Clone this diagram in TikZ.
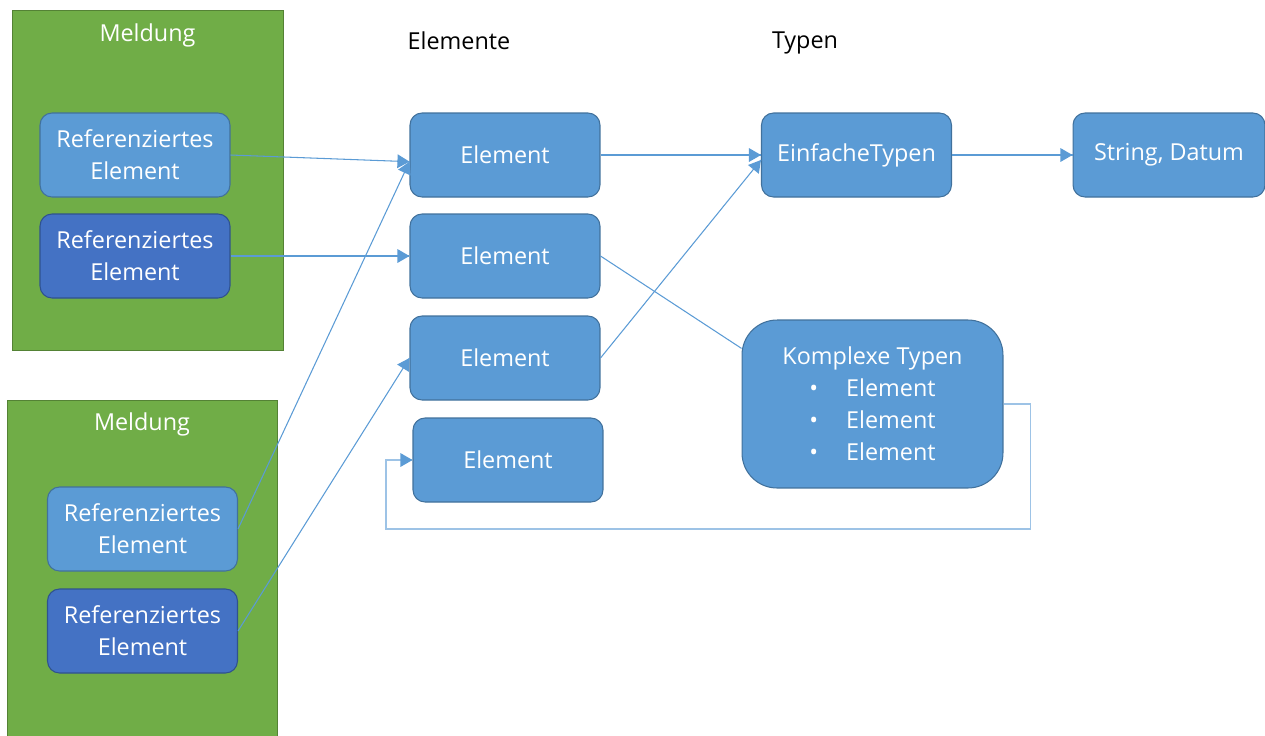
\documentclass[tikz,border=0pt]{standalone}
\usepackage{fontspec}
\setmainfont{Open Sans}
\usetikzlibrary{arrows}
\usetikzlibrary{decorations.markings}
\definecolor{msggreen}{HTML}{70AD47}
\definecolor{msgline}{HTML}{548235}
\definecolor{elblue}{HTML}{5B9BD5}
\definecolor{elline}{HTML}{41719C}
\definecolor{refdark}{HTML}{4472C4}
\definecolor{refline}{HTML}{2F528F}
\definecolor{connblue}{HTML}{5B9BD5}
\definecolor{looplight}{HTML}{9DC3E6}
\tikzset{tip/.style = {decoration={markings,
                                   mark=at position 1 with {\arrow[scale=1.15, connblue]{triangle 60}}},
                       postaction={decorate}}}
\tikzset{msgbox/.style = {draw = msgline, fill = msggreen, line width = 0.5pt,
                          minimum width = 5.42cm, minimum height = 6.8cm, inner sep = 0}}
\tikzset{elbox/.style = {draw = elline, fill = elblue, line width = 0.6pt,
                         rounded corners = 0.24cm, minimum width = 3.8cm, minimum height = 1.68cm,
                         inner sep = 0, text = white, align = center,
                         font = \fontsize{13.3}{18.2}\selectfont}}
\tikzset{refbox/.style = {elbox, draw = refline, fill = refdark}}
\tikzset{conn/.style = {draw = connblue, line width = 0.6pt}}
\tikzset{head/.style = {font = \fontsize{13.3}{18.2}\selectfont}}

\begin{document}
\begin{tikzpicture}[x = 0.02cm, y = -0.02cm]
        \useasboundingbox (0, 0) rectangle (1265, 735);
        % Meldungen
        \node at (147.5, 180) [msgbox] (m1) {};
        \node at (142, 570) [msgbox, minimum width = 5.4cm, minimum height = 6.8cm] (m2) {};
        \node at (147.5, 35) [head, text = white] (m1t) {Meldung};
        \node at (142, 424) [head, text = white] (m2t) {Meldung};
        \node at (135, 155) [elbox] (r1) {Referenziertes\\Element};
        \node at (135, 256) [refbox] (r2) {Referenziertes\\Element};
        \node at (142.5, 529) [elbox] (r3) {Referenziertes\\Element};
        \node at (142.5, 631) [refbox] (r4) {Referenziertes\\Element};
        % Elemente
        \node at (459, 41) [head] (elt) {Elemente};
        \node at (505, 155) [elbox] (e1) {Element};
        \node at (505, 256) [elbox] (e2) {Element};
        \node at (505, 358) [elbox] (e3) {Element};
        \node at (508, 460) [elbox] (e4) {Element};
        % Typen
        \node at (805, 43) [head] (tyt) {Typen};
        \node at (856.5, 155) [elbox] (et) {EinfacheTypen};
        \node at (1169, 155) [elbox, minimum width = 3.84cm] (sd) {String, Datum};
        \node at (872.5, 404) [elbox, rounded corners = 0.7cm, minimum width = 5.22cm,
                               minimum height = 3.36cm] (kt)
              {Komplexe Typen\\\textbullet\hspace{1.2em}Element\\
               \textbullet\hspace{1.2em}Element\\\textbullet\hspace{1.2em}Element};
        % Verbindungen
        \draw [conn, tip] (r1.east) -- (e1.184);
        \draw [conn, tip] (r2.east) -- (e2.west);
        \draw [conn, tip] (r3.east) -- (e1.184);
        \draw [conn, tip] (r4.east) -- (e3.west);
        \draw [conn, tip] (e1.east) -- (et.west);
        \draw [conn, tip] (e3.east) -- (et.183);
        \draw [conn] (e2.east) -- (kt.157);
        \draw [conn, tip] (et.east) -- (sd.west);
        \draw [conn, draw = looplight, tip] (kt.east) -- ++(27, 0) |- (386, 529) |- (e4.west);
      \end{tikzpicture}
\end{document}
